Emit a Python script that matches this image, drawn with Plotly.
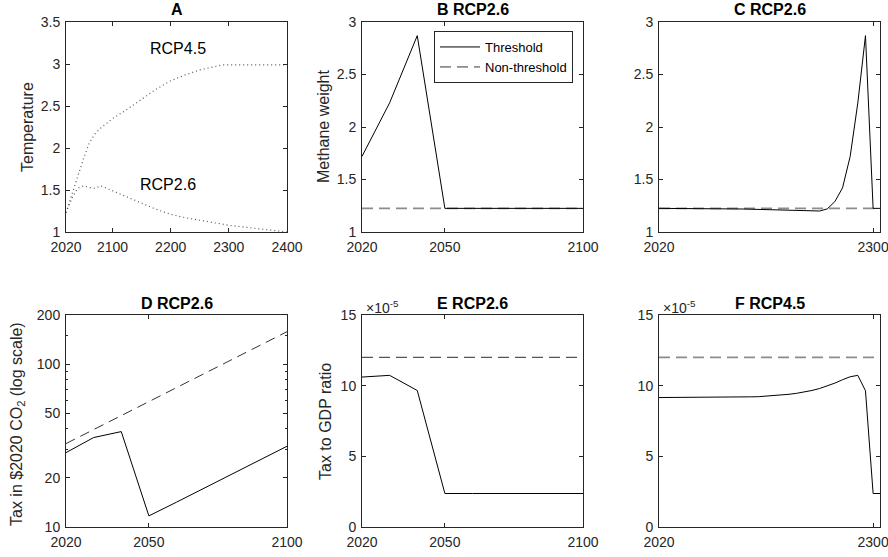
import plotly.graph_objects as go
import math

# ---------------- data ----------------
# Panel A: temperature paths
a_years = [2020, 2030, 2040, 2050, 2060, 2070, 2080, 2090, 2100, 2125, 2150, 2175,
           2200, 2225, 2250, 2275, 2290, 2300, 2350, 2400]
a_rcp45 = [1.23, 1.45, 1.67, 1.87, 2.06, 2.17, 2.24, 2.30, 2.35, 2.46, 2.58, 2.70,
           2.80, 2.87, 2.93, 2.97, 2.99, 2.99, 2.99, 2.99]
a_rcp26 = [1.23, 1.40, 1.52, 1.55, 1.53, 1.52, 1.55, 1.52, 1.49, 1.42, 1.34, 1.27,
           1.21, 1.17, 1.14, 1.11, 1.09, 1.08, 1.04, 1.00]

# Panel B: methane weight 2020-2100
b_years = [2020, 2030, 2040, 2050, 2060, 2070, 2080, 2090, 2100]
b_thresh = [1.72, 2.23, 2.87, 1.225, 1.225, 1.225, 1.225, 1.225, 1.225]
b_nonthresh = [1.225] * 9

# Panel C: methane weight 2020-2310
c_years = list(range(2020, 2311, 10))
c_thresh = [1.225, 1.225, 1.225, 1.225, 1.224, 1.224, 1.223, 1.223, 1.222, 1.221,
            1.220, 1.219, 1.217, 1.215, 1.212, 1.209, 1.206, 1.203, 1.200, 1.198,
            1.197, 1.200, 1.220, 1.290, 1.420, 1.720, 2.230, 2.870, 1.225, 1.225]
c_nonthresh = [1.225] * len(c_years)

# Panel D: tax in $2020 per tCO2 (log scale)
d_years = [2020, 2030, 2040, 2050, 2060, 2070, 2080, 2090, 2100]
d_thresh = [28.6, 35.4, 38.5, 11.7, 14.2, 17.3, 21.1, 25.7, 31.3]
d_nonthresh = [32.5, 39.6, 48.3, 58.9, 71.8, 87.5, 106.7, 130.0, 158.0]

# Panel E: tax to GDP ratio (x 1e-5)
e_years = [2020, 2030, 2040, 2050, 2060, 2070, 2080, 2090, 2100]
e_thresh = [10.61, 10.73, 9.66, 2.37, 2.37, 2.37, 2.37, 2.37, 2.37]
e_nonthresh = [12.0] * 9

# Panel F: tax to GDP ratio (x 1e-5), RCP4.5
f_years = list(range(2020, 2311, 10))
f_thresh = [9.16, 9.16, 9.16, 9.16, 9.16, 9.17, 9.17, 9.17, 9.18, 9.18,
            9.19, 9.20, 9.21, 9.22, 9.25, 9.28, 9.33, 9.39, 9.46, 9.55,
            9.66, 9.80, 9.97, 10.18, 10.42, 10.63, 10.73, 9.64, 2.37, 2.37]
f_nonthresh = [12.0] * len(f_years)

titles = ["A", "B RCP2.6", "C RCP2.6", "D RCP2.6", "E RCP2.6", "F RCP4.5"]

# ---------------- layout helpers ----------------
W, H = 888, 557
cols = [(66, 287), (362, 583), (659, 880)]
rows = [(22, 232), (315, 527)]
FONT = "Liberation Sans, Arial, sans-serif"
AX = "#262626"
GRAY = "#8c8c8c"


def px_x(p):
    return p / W


def px_y(p):
    return 1 - p / H


fig = go.Figure()

BLACK = dict(color="black", width=1)
DASH_GRAY = dict(color=GRAY, width=1.6, dash="11px,6px")

# A
fig.add_trace(go.Scatter(x=a_years, y=a_rcp45, mode="lines", xaxis="x", yaxis="y",
                         line=dict(color="#555555", width=1.2, dash="1px,3px"), showlegend=False))
fig.add_trace(go.Scatter(x=a_years, y=a_rcp26, mode="lines", xaxis="x", yaxis="y",
                         line=dict(color="#555555", width=1.2, dash="1px,3px"), showlegend=False))
# B
fig.add_trace(go.Scatter(x=b_years, y=b_nonthresh, mode="lines", xaxis="x2", yaxis="y2",
                         line=DASH_GRAY, name="Non-threshold", showlegend=True, legendrank=2))
fig.add_trace(go.Scatter(x=b_years, y=b_thresh, mode="lines", xaxis="x2", yaxis="y2",
                         line=BLACK, name="Threshold", showlegend=True, legendrank=1))
# C
fig.add_trace(go.Scatter(x=c_years, y=c_nonthresh, mode="lines", xaxis="x3", yaxis="y3",
                         line=DASH_GRAY, showlegend=False))
fig.add_trace(go.Scatter(x=c_years, y=c_thresh, mode="lines", xaxis="x3", yaxis="y3",
                         line=BLACK, showlegend=False))
# D
fig.add_trace(go.Scatter(x=d_years, y=d_nonthresh, mode="lines", xaxis="x4", yaxis="y4",
                         line=dict(color="#333333", width=1, dash="10px,6px"), showlegend=False))
fig.add_trace(go.Scatter(x=d_years, y=d_thresh, mode="lines", xaxis="x4", yaxis="y4",
                         line=BLACK, showlegend=False))
# E
fig.add_trace(go.Scatter(x=e_years, y=e_nonthresh, mode="lines", xaxis="x5", yaxis="y5",
                         line=dict(color="#555555", width=1.3, dash="11px,6px"), showlegend=False))
fig.add_trace(go.Scatter(x=e_years, y=e_thresh, mode="lines", xaxis="x5", yaxis="y5",
                         line=BLACK, showlegend=False))
# F
fig.add_trace(go.Scatter(x=f_years, y=f_nonthresh, mode="lines", xaxis="x6", yaxis="y6",
                         line=DASH_GRAY, showlegend=False))
fig.add_trace(go.Scatter(x=f_years, y=f_thresh, mode="lines", xaxis="x6", yaxis="y6",
                         line=BLACK, showlegend=False))

common = dict(showline=True, linecolor=AX, linewidth=1, mirror="ticks", ticks="inside",
              ticklen=4, tickcolor=AX, tickwidth=1, showgrid=False, zeroline=False,
              automargin=False, ticklabeloverflow="allow",
              tickfont=dict(family=FONT, size=14, color=AX), fixedrange=True)

x_specs = [
    dict(range=[2020, 2400], tickvals=[2020, 2100, 2200, 2300, 2400]),
    dict(range=[2020, 2100], tickvals=[2020, 2050, 2100]),
    dict(range=[2020, 2309], tickvals=[2020, 2300]),
    dict(range=[2020, 2100], tickvals=[2020, 2050, 2100]),
    dict(range=[2020, 2100], tickvals=[2020, 2050, 2100]),
    dict(range=[2020, 2309], tickvals=[2020, 2300]),
]
y_specs = [
    dict(range=[1, 3.5], tickvals=[1, 1.5, 2, 2.5, 3, 3.5], ticktext=["1", "1.5", "2", "2.5", "3", "3.5"]),
    dict(range=[1, 3], tickvals=[1, 1.5, 2, 2.5, 3], ticktext=["1", "1.5", "2", "2.5", "3"]),
    dict(range=[1, 3], tickvals=[1, 1.5, 2, 2.5, 3], ticktext=["1", "1.5", "2", "2.5", "3"]),
    dict(type="log", range=[1, math.log10(200)], tickvals=[10, 20, 50, 100, 200],
         ticktext=["10", "20", "50", "100", "200"],
         minor=dict(ticks="inside", ticklen=2, tickcolor=AX, tickvals=[30, 40, 60, 70, 80, 90, 150])),
    dict(range=[0, 15], tickvals=[0, 5, 10, 15], ticktext=["0", "5", "10", "15"]),
    dict(range=[0, 15], tickvals=[0, 5, 10, 15], ticktext=["0", "5", "10", "15"]),
]

layout = dict(width=W, height=H, margin=dict(l=0, r=0, t=0, b=0, autoexpand=False),
              template="none",
              paper_bgcolor="white", plot_bgcolor="white",
              font=dict(family=FONT, color=AX))
annotations = []
for i in range(6):
    r, c = divmod(i, 3)
    xd = [px_x(cols[c][0]), px_x(cols[c][1])]
    yd = [px_y(rows[r][1]), px_y(rows[r][0])]
    suffix = "" if i == 0 else str(i + 1)
    xa = dict(common, domain=xd, anchor="y" + suffix, ticklabelstandoff=2, **x_specs[i])
    ya = dict(common, domain=yd, anchor="x" + suffix, ticklabelstandoff=2, **y_specs[i])
    layout["xaxis" + suffix] = xa
    layout["yaxis" + suffix] = ya
    annotations.append(dict(text="<b>%s</b>" % titles[i], xref="paper", yref="paper",
                            x=px_x((cols[c][0] + cols[c][1]) / 2), y=px_y(rows[r][0] - 12),
                            xanchor="center", yanchor="middle", showarrow=False,
                            font=dict(family=FONT, size=16, color="black")))

# y axis titles
ytitles = [("Temperature", 27, 127), ("Methane weight", 323, 126),
           ("Tax in $2020 CO<sub>2</sub> (log scale)", 17, 424), ("Tax to GDP ratio", 325, 422)]
for txt, xp, yp in ytitles:
    annotations.append(dict(text=txt, xref="paper", yref="paper", x=px_x(xp), y=px_y(yp),
                            xanchor="center", yanchor="middle", textangle=-90, showarrow=False,
                            font=dict(family=FONT, size=16, color=AX)))

# curve labels in A
annotations.append(dict(text="RCP4.5", x=2212, y=3.19, xref="x", yref="y", showarrow=False,
                        font=dict(family=FONT, size=16, color="black")))
annotations.append(dict(text="RCP2.6", x=2195, y=1.57, xref="x", yref="y", showarrow=False,
                        font=dict(family=FONT, size=16, color="black")))

# exponent labels
for c in (1, 2):
    annotations.append(dict(text="\u00d710<sup>-5</sup>", xref="paper", yref="paper",
                            x=px_x(cols[c][0] + 2), y=px_y(rows[1][0] + 3),
                            xanchor="left", yanchor="bottom", showarrow=False,
                            font=dict(family=FONT, size=14, color=AX)))

layout["annotations"] = annotations
layout["legend"] = dict(x=px_x(573), y=px_y(31), xanchor="right", yanchor="top",
                        bordercolor=AX, borderwidth=1, bgcolor="white",
                        font=dict(family=FONT, size=13, color="black"),
                        tracegroupgap=0, itemwidth=40)
fig.update_layout(**layout)

fig.write_html("out.html")
